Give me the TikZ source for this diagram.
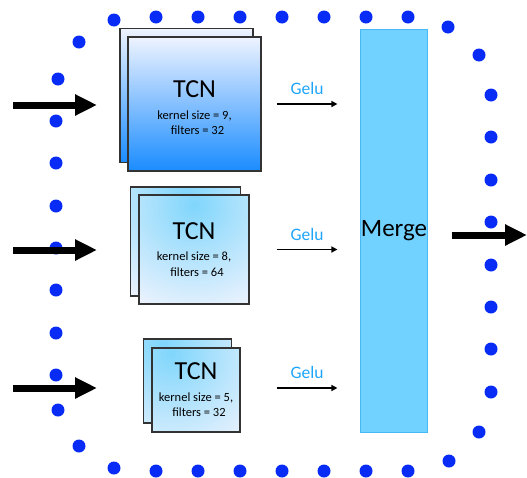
\documentclass[tikz,border=0pt]{standalone}
\usepackage{fontspec}
\setmainfont{Carlito}
\usetikzlibrary{arrows.meta,positioning}

\definecolor{dotblue}{RGB}{8,44,245}
\definecolor{mergefill}{RGB}{114,210,255}
\definecolor{mergeline}{RGB}{70,184,245}
\definecolor{gelublue}{RGB}{30,165,250}
\definecolor{tcntop}{RGB}{238,243,255}
\definecolor{tcnbottom}{RGB}{26,140,255}
\definecolor{paleblue}{RGB}{234,242,253}
\definecolor{glowblue}{RGB}{128,214,252}

\tikzset{
    dot/.style={circle, fill=dotblue, inner sep=0pt, minimum size=13pt},
    tcnbox/.style={draw=black!80, line width=1.3pt, inner sep=0pt},
    tcnlinear/.style={tcnbox, top color=tcntop, bottom color=tcnbottom},
    tcnglow/.style={tcnbox, fill=paleblue,
        path picture={\shade[inner color=glowblue, outer color=paleblue]
            ([shift={(#1)}]path picture bounding box.north) circle (110pt);}},
    tcnlabel/.style={align=center, inner sep=0pt, font=\fontsize{12.5}{15.5}\selectfont},
    bigarrow/.style={line width=7pt, -{Triangle[length=22pt,width=20pt]}},
    geluarrow/.style={line width=1.5pt, -{Triangle[length=6pt,width=6pt]}},
    gelulabel/.style={text=gelublue, font=\fontsize{17.5}{20}\selectfont, above=5pt},
}

\newcommand{\tcntext}[2]{{\fontsize{26}{28}\selectfont TCN}\\[6pt]
    kernel size = #1,\\
    \hspace*{6pt}filters = #2}

\begin{document}
\begin{tikzpicture}[x=1pt,y=-1pt]
    \useasboundingbox (0,0) rectangle (527,477);

    % dotted frame
    \foreach \u/\v in {114/20,156/17,198/17,240/17,282/17,324/17,366/17,408/17,448/27,
                       479/55,491/95,491/137,491/180,491/222,491/265,491/307,491/349,491/392,479/432,
                       449/461,408/471,366/471,324/471,282/471,240/471,198/471,156/471,114/468,
                       79/446,58/410,56/375,56/333,56/290,56/248,56/206,56/163,56/121,58/79,79/42}
        \node[dot] at (\u,\v) {};

    % TCN stacks
    \node[tcnlinear, minimum width=133pt, minimum height=134pt] (b1) at (186.5,95.5) {};
    \node[tcnlinear, minimum width=133pt, minimum height=134pt] (f1) at (194.5,104) {};
    \node[tcnglow={0,10}, minimum width=110pt, minimum height=109pt] (b2) at (185.5,241.5) {};
    \node[tcnglow={0,10}, minimum width=110pt, minimum height=109pt] (f2) at (194,249.5) {};
    \node[tcnglow={-25,5}, minimum width=88pt, minimum height=84pt] (b3) at (187.5,381) {};
    \node[tcnglow={-25,5}, minimum width=88pt, minimum height=84pt] (f3) at (196,390) {};
    \node[tcnlabel] (t1) at ([yshift=-4pt]f1.center) {\tcntext{9}{32}};
    \node[tcnlabel] (t2) at (f2.center) {\tcntext{8}{64}};
    \node[tcnlabel] (t3) at (f3.center) {\tcntext{5}{32}};

    % merge
    \node[draw=mergeline, fill=mergefill, line width=1pt, minimum width=64pt, minimum height=403pt,
          inner sep=0pt, font=\fontsize{25}{28}\selectfont] (merge) at (394,230.5) {Merge};

    % inputs
    \foreach \y/\n in {105/1,250/2,388/3}
        {
            \coordinate (in\n) at (13,\y);
            \coordinate (to\n) at (97,\y);
            \draw[bigarrow] (in\n) -- (to\n);
        }

    % gelu
    \draw[geluarrow] ([xshift=15pt]f1.east) -- ([xshift=-23pt]merge.west |- f1.east) node[midway, gelulabel] {Gelu};
    \draw[geluarrow] ([xshift=27pt]f2.east) -- ([xshift=-23pt]merge.west |- f2.east) node[midway, gelulabel] {Gelu};
    \draw[geluarrow] ([xshift=36pt,yshift=2pt]f3.east) -- ([xshift=-23pt,yshift=2pt]merge.west |- f3.east) node[midway, gelulabel] {Gelu};

    % output
    \coordinate (out) at (527,235);
    \draw[bigarrow] ([xshift=24pt,yshift=-4.5pt]merge.east) -- (out);
\end{tikzpicture}
\end{document}
